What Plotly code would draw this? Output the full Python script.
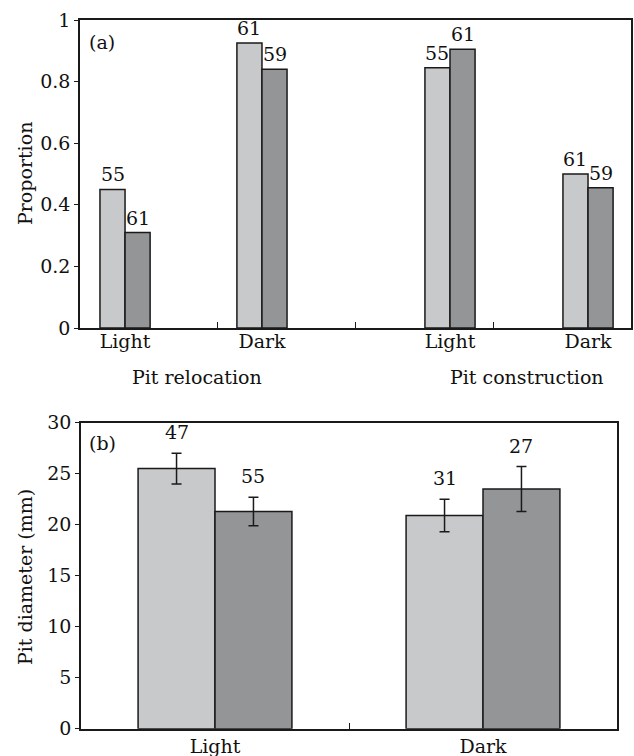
import plotly.graph_objects as go

# ---------------- data ----------------
# Panel (a): proportions
a_categories = ["Light", "Dark", "Light", "Dark"]
a_groups = ["Pit relocation", "Pit construction"]
a_light = [0.45, 0.925, 0.845, 0.50]
a_dark = [0.31, 0.84, 0.905, 0.455]
a_light_n = [55, 61, 55, 61]
a_dark_n = [61, 59, 61, 59]
a_yticks = [0, 0.2, 0.4, 0.6, 0.8, 1]
a_yticklabels = ["0", "0.2", "0.4", "0.6", "0.8", "1"]

# Panel (b): pit diameter (mm)
b_categories = ["Light", "Dark"]
b_light = [25.5, 20.9]
b_light_err = [1.5, 1.6]
b_dark = [21.3, 23.5]
b_dark_err = [1.4, 2.2]
b_light_n = [47, 31]
b_dark_n = [55, 27]
b_yticks = [0, 5, 10, 15, 20, 25, 30]

# ---------------- layout constants ----------------
W, H = 634, 756
A_POS = [0.327, 1.321, 2.686, 3.688]
A_W = 0.182
B_POS = [0.5, 1.5]
B_W = 0.287
LIGHT = "#c8c9cb"
DARK = "#949597"
EDGE = "#1a1a1a"
FONT = "DejaVu Serif"
FS = 19


def px(x):
    return x / W


def py(y):
    return 1 - y / H


fig = go.Figure()

bar_line = dict(color=EDGE, width=1.5)

fig.add_trace(go.Bar(x=A_POS, y=a_light, width=A_W, offset=-A_W,
                     marker=dict(color=LIGHT, line=bar_line),
                     xaxis="x", yaxis="y", showlegend=False, hoverinfo="skip"))
fig.add_trace(go.Bar(x=A_POS, y=a_dark, width=A_W, offset=0,
                     marker=dict(color=DARK, line=bar_line),
                     xaxis="x", yaxis="y", showlegend=False, hoverinfo="skip"))

err_style = dict(type="data", color=EDGE, thickness=1.5, width=5)
fig.add_trace(go.Bar(x=B_POS, y=b_light, width=B_W, offset=-B_W,
                     marker=dict(color=LIGHT, line=bar_line),
                     error_y=dict(array=b_light_err, **err_style),
                     xaxis="x2", yaxis="y2", showlegend=False, hoverinfo="skip"))
fig.add_trace(go.Bar(x=B_POS, y=b_dark, width=B_W, offset=0,
                     marker=dict(color=DARK, line=bar_line),
                     error_y=dict(array=b_dark_err, **err_style),
                     xaxis="x2", yaxis="y2", showlegend=False, hoverinfo="skip"))

annotations = []
for p, v, n in zip(A_POS, a_light, a_light_n):
    annotations.append(dict(x=p - A_W / 2, y=v, xref="x", yref="y", text=str(n),
                            showarrow=False, yanchor="middle", yshift=15))
for p, v, n in zip(A_POS, a_dark, a_dark_n):
    annotations.append(dict(x=p + A_W / 2, y=v, xref="x", yref="y", text=str(n),
                            showarrow=False, yanchor="middle", yshift=15))
for p, v, e, n in zip(B_POS, b_light, b_light_err, b_light_n):
    annotations.append(dict(x=p - B_W / 2, y=v + e, xref="x2", yref="y2", text=str(n),
                            showarrow=False, yanchor="middle", yshift=21))
for p, v, e, n in zip(B_POS, b_dark, b_dark_err, b_dark_n):
    annotations.append(dict(x=p + B_W / 2, y=v + e, xref="x2", yref="y2", text=str(n),
                            showarrow=False, yanchor="middle", yshift=21))

# group labels under panel (a)
annotations.append(dict(x=px(197), y=py(377), xref="paper", yref="paper", text=a_groups[0],
                        showarrow=False, xanchor="center", yanchor="middle"))
annotations.append(dict(x=px(527), y=py(377), xref="paper", yref="paper", text=a_groups[1],
                        showarrow=False, xanchor="center", yanchor="middle"))
# panel letters
annotations.append(dict(x=px(87), y=py(42), xref="paper", yref="paper", text="(a)",
                        showarrow=False, xanchor="left", yanchor="middle"))
annotations.append(dict(x=px(87), y=py(443), xref="paper", yref="paper", text="(b)",
                        showarrow=False, xanchor="left", yanchor="middle"))
# y axis titles
annotations.append(dict(x=px(25), y=py(174), xref="paper", yref="paper", text="Proportion",
                        showarrow=False, textangle=-90, xanchor="center", yanchor="middle"))
annotations.append(dict(x=px(25), y=py(577), xref="paper", yref="paper", text="Pit diameter (mm)",
                        showarrow=False, textangle=-90, xanchor="center", yanchor="middle"))

axis_common = dict(showline=True, linecolor=EDGE, linewidth=1.5, mirror=True,
                   showgrid=False, zeroline=False, fixedrange=True, automargin=False,
                   tickfont=dict(family=FONT, size=FS, color="#111"))

fig.update_layout(
    width=W, height=H,
    margin=dict(l=0, r=0, t=0, b=0, autoexpand=False),
    paper_bgcolor="white", plot_bgcolor="white",
    font=dict(family=FONT, size=FS, color="#111"),
    barmode="overlay",
    xaxis=dict(domain=[px(80), px(631)], anchor="y", range=[0, 4],
               tickmode="array", tickvals=A_POS, ticktext=a_categories, ticks="",
               ticklabelstandoff=-5,
               minor=dict(tickmode="array", tickvals=[1, 2, 3], ticks="inside",
                          ticklen=6, tickwidth=1.2, tickcolor=EDGE),
               **axis_common),
    yaxis=dict(domain=[py(328), py(20)], anchor="x", range=[0, 1],
               tickmode="array", tickvals=a_yticks, ticktext=a_yticklabels,
               ticks="outside", ticklen=4, tickwidth=1.2, tickcolor=EDGE,
               **axis_common),
    xaxis2=dict(domain=[px(81), px(617)], anchor="y2", range=[0, 2],
                tickmode="array", tickvals=B_POS, ticktext=b_categories, ticks="",
                minor=dict(tickmode="array", tickvals=[1], ticks="inside",
                           ticklen=6, tickwidth=1.2, tickcolor=EDGE),
                **axis_common),
    yaxis2=dict(domain=[py(728.7), py(422.7)], anchor="x2", range=[0, 30],
                tickmode="array", tickvals=b_yticks,
                ticks="outside", ticklen=4, tickwidth=1.2, tickcolor=EDGE,
                **axis_common),
    annotations=annotations,
)

# the page's default 8px body margin would shift the figure; remove it
fig.write_html("out.html", config={"displayModeBar": False},
               post_script="document.body.style.margin='0';")
